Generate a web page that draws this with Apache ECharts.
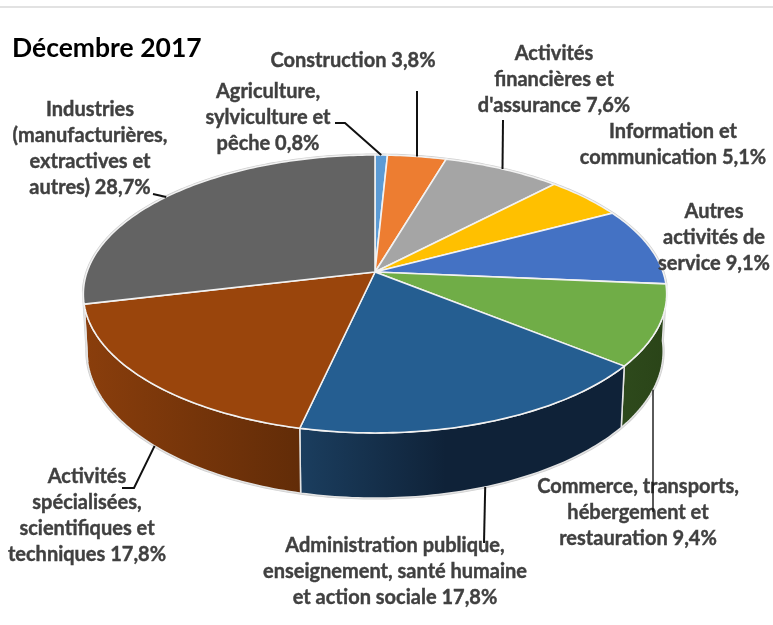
<!DOCTYPE html>
<html>
<head>
<meta charset="utf-8">
<style>html,body{margin:0;padding:0;background:#fff}#chart{width:773px;height:625px}</style>
<script src="https://cdn.jsdelivr.net/npm/echarts@6/dist/echarts.min.js"></script>
</head>
<body>
<div id="chart"></div>
<script>
// valeurs
const titleText = 'Décembre 2017';
const categories = [
  'Agriculture,\nsylviculture et\npêche',
  'Construction',
  'Activités\nfinancières et\nd\'assurance',
  'Information et\ncommunication',
  'Autres\nactivités de\nservice',
  'Commerce, transports,\nhébergement et\nrestauration',
  'Administration publique,\nenseignement, santé humaine\net action sociale',
  'Activités\nspécialisées,\nscientifiques et\ntechniques',
  'Industries\n(manufacturières,\nextractives et\nautres)'
];
const shares = [0.8, 3.8, 7.6, 5.1, 9.1, 9.4, 17.8, 17.8, 28.7];
const colors = ['#5B9BD5', '#ED7D31', '#A5A5A5', '#FFC000', '#4472C4', '#70AD47', '#255E91', '#9A450C', '#636363'];
const wallLeft = ['#3a5f80', '#8a4a1d', '#666666', '#9a7400', '#2a4577', '#2e4a1c', '#1b3e5f', '#8a3e0c', '#3c3c3c'];
const wallRight = ['#3a5f80', '#8a4a1d', '#666666', '#9a7400', '#2a4577', '#2a4418', '#0f2238', '#622c08', '#3c3c3c'];
// endroit du flanc ou le degrade atteint sa couleur sombre
const wallStop = [1, 1, 1, 1, 1, 1, 0.45, 1, 1];

// position des étiquettes [centre x, centre y] et coude des traits de rappel
const labelPos = [[268, 118], [353, 61], [554, 80], [673, 145], [714, 238], [638, 513], [395, 572], [87, 516], [90, 149]];
const leaders = [
  [[345, 123], [335, 123]],
  [[417, 91]],
  [[503, 120]],
  null,
  null,
  [[653, 512]],
  [[484, 543]],
  [[134, 488], [122, 488]],
  [[153, 194]]
];
// décalage du point d'attache en degrés
const anchorShift = [0, 0, 0, 0, 0, 2, 0, -1.5, -1];

// perspective du disque
const cx = 375, cy = 272, ax = 288, by = 135.5, k = 0.158;
const depth = 56, sx = 0.988, sy = 1.057;
const total = shares.reduce((a, b) => a + b, 0);

function project(deg, bottom) {
  const t = deg * Math.PI / 180;
  const w = 1 + k * Math.cos(t);
  const x = ax * Math.sin(t) / w;
  const y = -by * Math.cos(t) / w;
  if (bottom) return [cx + sx * x, cy + depth + sy * y];
  return [cx + x, cy + y];
}
function arc(from, to, bottom) {
  const pts = [];
  const n = Math.max(2, Math.ceil(Math.abs(to - from)));
  for (let i = 0; i <= n; i++) pts.push(project(from + (to - from) * i / n, bottom));
  return pts;
}
function sliceAngles(i) {
  let sum = 0;
  for (let j = 0; j < i; j++) sum += shares[j];
  return [sum / total * 360, (sum + shares[i]) / total * 360];
}
// partie visible du flanc
const wallFrom = 95, wallTo = 262;

const renderHalo = function () {
  return {
    type: 'polygon',
    shape: { points: arc(wallFrom, wallTo, true).concat(arc(wallTo, 360 + wallFrom, false)) },
    style: { fill: '#fff', stroke: '#cfcfcf', lineWidth: 3 }
  };
};
const renderWall = function (params) {
  const i = params.dataIndex;
  const a = sliceAngles(i);
  const from = Math.max(a[0], wallFrom), to = Math.min(a[1], wallTo);
  if (to <= from) return null;
  return {
    type: 'polygon',
    shape: { points: arc(from, to, false).concat(arc(to, from, true)) },
    style: {
      fill: new echarts.graphic.LinearGradient(0, 0, 1, 0, [
        { offset: 0, color: wallLeft[i] },
        { offset: wallStop[i], color: wallRight[i] },
        { offset: 1, color: wallRight[i] }
      ]),
      stroke: '#e4e4e4',
      lineWidth: 1.5
    }
  };
};
const renderTop = function (params) {
  const a = sliceAngles(params.dataIndex);
  return {
    type: 'polygon',
    shape: { points: [[cx, cy]].concat(arc(a[0], a[1], false)) },
    style: { fill: colors[params.dataIndex], stroke: '#f2f2f2', lineWidth: 1.6 }
  };
};
const renderLeader = function (params) {
  const i = params.dataIndex;
  if (!leaders[i]) return null;
  const a = sliceAngles(i);
  const mid = (a[0] + a[1]) / 2 + anchorShift[i];
  const start = project(mid, mid > 100 && mid < 260);
  return {
    type: 'polyline',
    shape: { points: [start].concat(leaders[i]) },
    style: { fill: null, stroke: '#111', lineWidth: i === 5 ? 1.4 : 2 }
  };
};
const renderLabel = function (params) {
  const i = params.dataIndex;
  return {
    type: 'text',
    x: labelPos[i][0],
    y: labelPos[i][1],
    style: {
      text: categories[i] + ' ' + String(shares[i]).replace('.', ',') + '%',
      fill: '#404040',
      stroke: '#404040',
      lineWidth: 0.4,
      font: 'bold 20px Lato',
      align: 'center',
      verticalAlign: 'middle',
      lineHeight: 26
    }
  };
};

function customSeries(fn, data, z) {
  return { type: 'custom', coordinateSystem: 'none', renderItem: fn, data: data, z: z, silent: true, animation: false };
}

const chart = echarts.init(document.getElementById('chart'), null, { renderer: 'canvas' });
chart.setOption({
  animation: false,
  backgroundColor: '#fff',
  title: {
    text: titleText,
    left: 12,
    top: 35,
    padding: 0,
    textStyle: { fontFamily: 'Lato', fontWeight: 'bold', fontSize: 26.5, color: '#000' }
  },
  graphic: [{
    type: 'rect',
    shape: { x: 0, y: 6, width: 773, height: 2 },
    style: { fill: '#e2e2e2' }
  }],
  series: [
    customSeries(renderHalo, [0], 1),
    customSeries(renderWall, shares, 2),
    customSeries(renderTop, shares, 3),
    customSeries(renderLabel, shares, 4),
    customSeries(renderLeader, shares, 5)
  ]
});
</script>
</body>
</html>
